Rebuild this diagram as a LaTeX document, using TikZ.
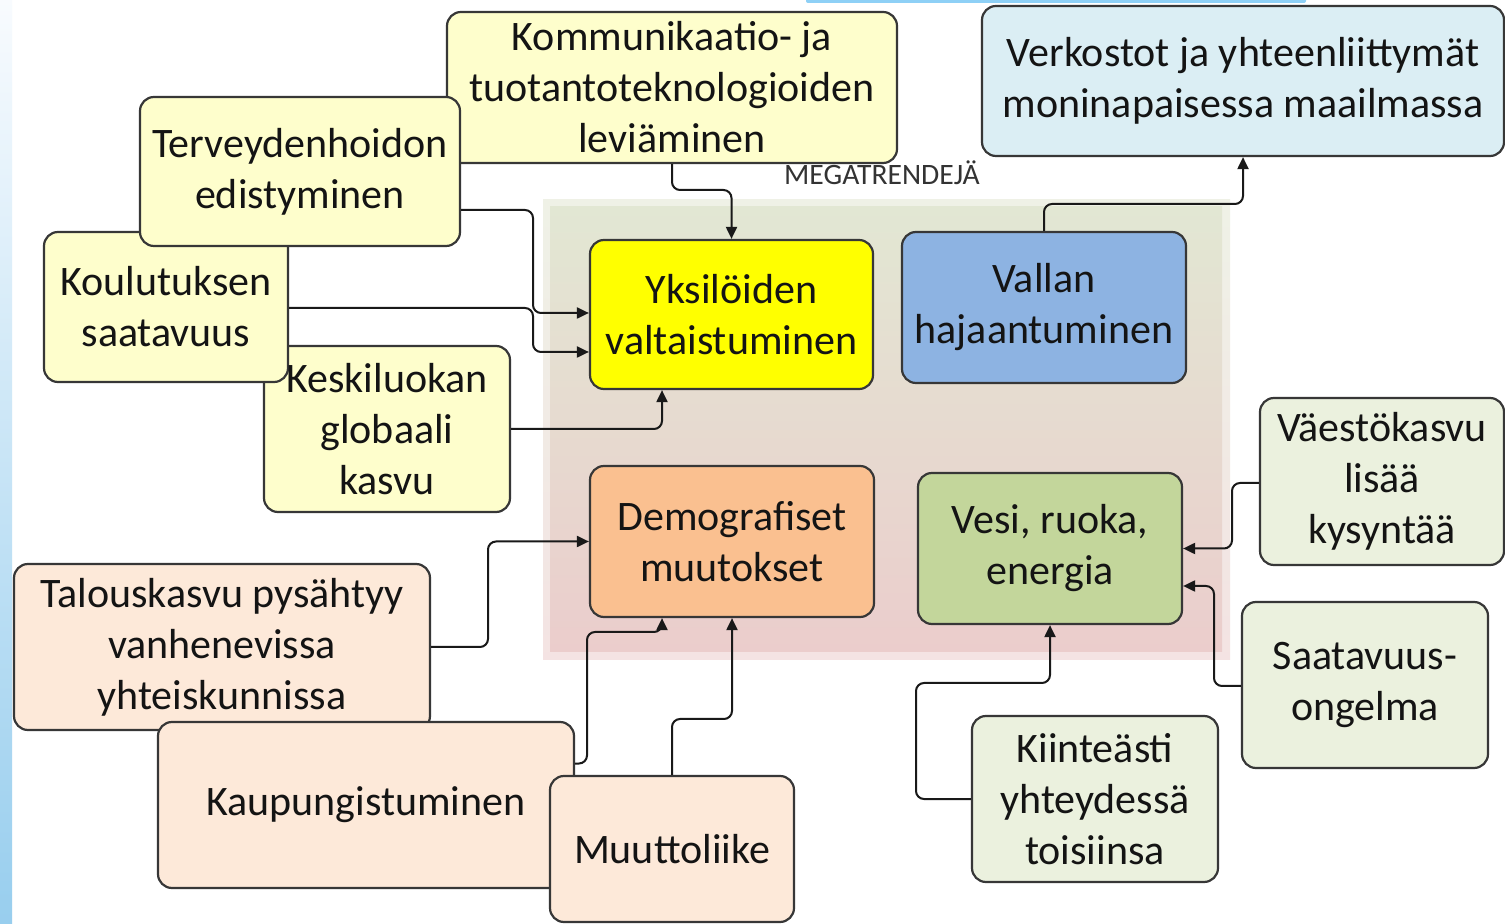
\documentclass[tikz,border=0pt]{standalone}
\usepackage{fontspec}
\setmainfont{Carlito}
\usetikzlibrary{arrows.meta}
\definecolor{ltyellow}{RGB}{254,254,204}
\definecolor{yksyellow}{RGB}{255,255,0}
\definecolor{vallblue}{RGB}{141,179,226}
\definecolor{verkblue}{RGB}{219,238,244}
\definecolor{demoorange}{RGB}{250,192,144}
\definecolor{ltpeach}{RGB}{253,233,217}
\definecolor{vesigreen}{RGB}{195,214,155}
\definecolor{ltgreen}{RGB}{235,241,222}
\definecolor{bordergray}{RGB}{55,55,55}
\definecolor{txtgray}{RGB}{20,20,20}
\definecolor{grptop}{RGB}{226,231,211}
\definecolor{grpbot}{RGB}{235,205,204}
\definecolor{stripbot}{RGB}{152,206,238}
\definecolor{striptop}{RGB}{248,251,254}
\definecolor{bandblue}{RGB}{142,208,246}
\tikzset{
  box/.style={draw=bordergray, line width=1.1pt, rounded corners=7pt, inner sep=0pt,
    align=center, text=txtgray, font=\fontsize{21}{25.5}\selectfont},
  boxtext/.style={inner sep=0pt, align=center, text=txtgray, font=\fontsize{21}{25.5}\selectfont},
  conn/.style={draw=black!90, line width=1pt, rounded corners=4pt},
  arr/.style={conn, -{Triangle[length=6pt,width=5.5pt]}},
}
\begin{document}
\begin{tikzpicture}[x=0.5pt,y=-0.5pt]
\useasboundingbox (0,0) rectangle (1505,924);
\fill[white] (0,0) rectangle (1505,924);
% left decorative strip and top band
\shade[top color=striptop, bottom color=stripbot] (0,0) rectangle (12,924);
\fill[bandblue, rounded corners=1pt] (806,-2) rectangle (1306,3);
% megatrend group background
\shade[top color=grptop, bottom color=grpbot, opacity=0.55] (543,200) rectangle (1230,660);
\shade[top color=grptop, bottom color=grpbot] (550,207) rectangle (1222,652);
\node[text=black!80, font=\fontsize{14.8}{16}\selectfont, inner sep=0pt] (mega) at (882,173) {MEGATRENDEJÄ};

% boxes
\node[box, fill=ltyellow, minimum width=225pt, minimum height=75.5pt] (komm) at (672,87.5)
  {Kommunikaatio- ja\\tuotantoteknologioiden\\leviäminen};
\node[box, fill=ltyellow, minimum width=123pt, minimum height=83pt] (kesk) at (387,429) {};
\node[box, fill=ltyellow, minimum width=122pt, minimum height=75pt] (koul) at (166,307)
  {Koulutuksen\\saatavuus};
\node[box, fill=ltyellow, minimum width=160pt, minimum height=74.5pt] (terv) at (300,171.5)
  {Terveydenhoidon\\edistyminen};
\node[boxtext] (kesktext) at (kesk) {Keskiluokan\\globaali\\kasvu};

\node[box, fill=yksyellow, minimum width=141.5pt, minimum height=74.5pt] (yks) at (731.5,314.5)
  {Yksilöiden\\valtaistuminen};
\node[box, fill=vallblue, minimum width=142pt, minimum height=75.5pt] (vall) at (1044,307.5)
  {Vallan\\hajaantuminen};
\node[box, fill=verkblue, minimum width=261pt, minimum height=75pt] (verk) at (1243,81)
  {Verkostot ja yhteenliittymät\\moninapaisessa maailmassa};
\node[box, fill=demoorange, minimum width=142pt, minimum height=75.5pt] (demo) at (732,541.5)
  {Demografiset\\muutokset};
\node[box, fill=vesigreen, minimum width=132pt, minimum height=75.5pt] (vesi) at (1050,548.5)
  {Vesi, ruoka,\\energia};
\node[box, fill=ltgreen, minimum width=122pt, minimum height=83.5pt] (vaes) at (1382,481.5)
  {Väestökasvu\\lisää\\kysyntää};
\node[box, fill=ltgreen, minimum width=123pt, minimum height=83pt] (saat) at (1365,685)
  {Saatavuus-\\ongelma};
\node[box, fill=ltgreen, minimum width=123pt, minimum height=83pt] (kiin) at (1095,799)
  {Kiinteästi\\yhteydessä\\toisiinsa};
\node[box, fill=ltpeach, minimum width=208pt, minimum height=83pt] (talo) at (222,647)
  {Talouskasvu pysähtyy\\vanhenevissa\\yhteiskunnissa};
\node[box, fill=ltpeach, minimum width=208pt, minimum height=83pt] (kaup) at (366,805)
  {Kaupungistuminen};
\node[box, fill=ltpeach, minimum width=122pt, minimum height=73pt] (muut) at (672,849)
  {Muuttoliike};

% connectors
\draw[arr] (komm.south) -- (672,190) -- (731.5,190) -- (yks.north);
\draw[arr] ([yshift=-19.25pt]terv.east) -- (533,210) -- (533,313) -- ([yshift=0.75pt]yks.west);
\draw[arr] ([yshift=-0.5pt]koul.east) -- (533,308) -- (533,352) -- ([yshift=-18.75pt]yks.west);
\draw[arr] (kesk.east) -- (662,429) -- ([xshift=-34.75pt]yks.south);
\draw[arr] (vall.north) -- (1044,204) -- (1243,204) -- (verk.south);
\draw[arr] (talo.east) -- (488,647) -- (488,541.5) -- (demo.west);
\draw[arr] ([yshift=20.75pt]kaup.east) -- (587,763.5) -- (587,632) -- (662,632) -- ([xshift=-35pt]demo.south);
\draw[arr] (muut.north) -- (672,719) -- (732,719) -- (demo.south);
\draw[arr] ([yshift=-0.75pt]vaes.west) -- (1232,483) -- (1232,548.5) -- (vesi.east);
\draw[arr] ([yshift=-0.5pt]saat.west) -- (1214,686) -- (1214,586) -- ([yshift=-18.75pt]vesi.east);
\draw[arr] (kiin.west) -- (916,799) -- (916,683) -- (1050,683) -- (vesi.south);
\end{tikzpicture}
\end{document}
